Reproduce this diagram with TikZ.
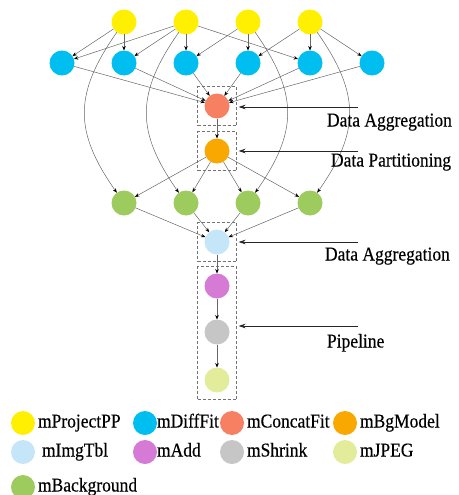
\documentclass[tikz,border=0pt]{standalone}
\usepackage{fontspec}
\setmainfont{Liberation Serif}[FakeBold=0.4]
\usepackage{graphicx}
\usepackage{tikz}
\usetikzlibrary{arrows.meta, positioning, fit}
\definecolor{mppyellow}{HTML}{FFEF00}
\definecolor{mdfblue}{HTML}{00BFF0}
\definecolor{mcfsalmon}{HTML}{F77F62}
\definecolor{mbgorange}{HTML}{F8A800}
\definecolor{mitblue}{HTML}{C5E5F8}
\definecolor{maddpurple}{HTML}{D57AD5}
\definecolor{mshgray}{HTML}{C6C6C6}
\definecolor{mjplime}{HTML}{E3EC9A}
\definecolor{mbkgreen}{HTML}{9ECB5E}
\newcommand{\tallword}[1]{\scalebox{1}[1.12]{#1}}

\begin{document}
\begin{tikzpicture}[
        x=1pt, y=-1pt,
        font=\fontsize{17.5}{20}\selectfont,
        every node/.style={inner sep=0pt, outer sep=0pt},
        % ===== Estilos =====
        job/.style={circle, minimum size=25pt},
        flow/.style={draw=black!60, line width=0.5pt,
                     -{Stealth[length=4.5pt, width=3.5pt, color=black]}},
        stagebox/.style={draw=black!55, densely dashed, line width=0.5pt,
                         inner sep=7pt},
        stagearrow/.style={draw=black!85, line width=0.8pt, shorten >=2pt,
                           -{Stealth[length=7pt, width=4.5pt]}},
        stagelabel/.style={anchor=west, text height=13pt, text depth=4pt},
        keydot/.style={circle, minimum size=24pt},
        keytext/.style={text height=13pt, text depth=4pt}
    ]
        \useasboundingbox (0,0) rectangle (458,495);

        % ===== Jobs =====
        \foreach \i/\xc in {1/124, 2/186, 3/248, 4/310}
            \node[job, fill=mppyellow] (p\i) at (\xc,22) {};
        \foreach \i/\xc in {1/62, 2/124, 3/186, 4/248, 5/310, 6/372}
            \node[job, fill=mdfblue] (d\i) at (\xc,63) {};
        \node[job, fill=mcfsalmon] (cf) at (217,106) {};
        \node[job, fill=mbgorange] (bg) at (217,151) {};
        \foreach \i/\xc in {1/124, 2/186, 3/248, 4/310}
            \node[job, fill=mbkgreen] (b\i) at (\xc,203) {};
        \node[job, fill=mitblue] (it) at (217,242) {};
        \node[job, fill=maddpurple] (ad) at (217,286) {};
        \node[job, fill=mshgray] (sh) at (217,332) {};
        \node[job, fill=mjplime] (jp) at (217,380) {};

        % ===== Dependencias =====
        \foreach \s/\t in {p1/d1, p1/d2, p2/d1, p2/d2, p2/d3, p2/d5,
                           p3/d3, p3/d4, p4/d4, p4/d5, p4/d6}
            \draw[flow] (\s) -- (\t);
        \foreach \i in {1,...,6}
            \draw[flow] (d\i) -- (cf);
        \draw[flow] (cf) -- (bg);
        \foreach \i in {1,...,4}
            \draw[flow] (bg) -- (b\i);
        \foreach \i in {1,2}
            \draw[flow] (p\i) to[out=-125, in=125, looseness=1.2] (b\i);
        \foreach \i in {3,4}
            \draw[flow] (p\i) to[out=-55, in=55, looseness=1.2] (b\i);
        \foreach \i in {1,...,4}
            \draw[flow] (b\i) -- (it);
        \draw[flow] (it) -- (ad);
        \draw[flow] (ad) -- (sh);
        \draw[flow] (sh) -- (jp);

        % ===== Etapas =====
        \node[stagebox, fit=(cf)] (agg1) {};
        \node[stagebox, fit=(bg)] (part) {};
        \node[stagebox, fit=(it)] (agg2) {};
        \node[stagebox, fit=(ad)(jp)] (pipe) {};

        \coordinate (s1) at (358,107);
        \coordinate (s2) at (358,151);
        \coordinate (s3) at (358,242);
        \coordinate (s4) at (358,326);
        \draw[stagearrow] (s1) -- (s1 -| agg1.east);
        \draw[stagearrow] (s2) -- (s2 -| part.east);
        \draw[stagearrow] (s3) -- (s3 -| agg2.east);
        \draw[stagearrow] (s4) -- (s4 -| pipe.east);

        \node[stagelabel] (l1) at (327,122) {\tallword{Data Aggregation}};
        \node[stagelabel] (l2) at (331,162) {\tallword{Data Partitioning}};
        \node[stagelabel] (l3) at (325,256) {\tallword{Data Aggregation}};
        \node[stagelabel] (l4) at (327,343) {\tallword{Pipeline}};

        % ===== Leyenda =====
        \foreach \i/\xc/\yc/\col/\txt/\gap in {%
            1/23/423/mppyellow/mProjectPP/3,
            2/145/423/mdfblue/mDiffFit/0,
            3/232/423/mcfsalmon/mConcatFit/3,
            4/345/423/mbgorange/mBgModel/3,
            5/23/452/mitblue/mImgTbl/7,
            6/145/452/maddpurple/mAdd/0,
            7/232/452/mshgray/mShrink/3,
            8/345/452/mjplime/mJPEG/3,
            9/23/487/mbkgreen/mBackground/3%
        }{
            \node[keydot, fill=\col] (k\i) at (\xc,\yc) {};
            \node[keytext, right=\gap pt of k\i] (kt\i) {\tallword{\txt}};
        }
\end{tikzpicture}
\end{document}
